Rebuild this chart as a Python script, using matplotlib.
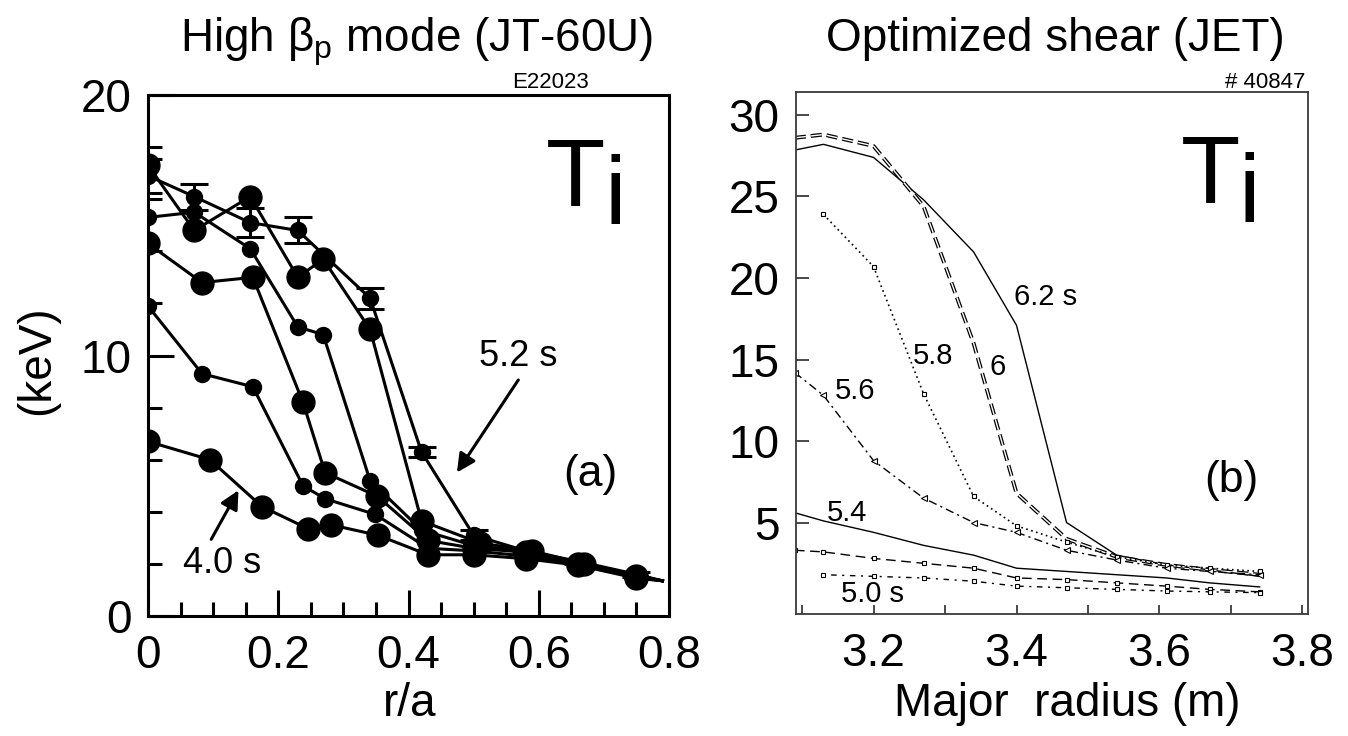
import numpy as np
import matplotlib
matplotlib.use("Agg")
import matplotlib.pyplot as plt

plt.rcParams['font.family'] = ['Liberation Sans', 'DejaVu Sans']
plt.rcParams['mathtext.default'] = 'regular'
plt.rcParams['lines.scale_dashes'] = False

# ---- panel (a): JT-60U high beta_p, Ti(r/a) at several times ----
r_A = [0.0, 0.095, 0.175, 0.246, 0.281, 0.353, 0.43, 0.50, 0.58, 0.66, 0.75]
ti_A = [6.7, 6.0, 4.2, 3.35, 3.5, 3.1, 2.35, 2.35, 2.2, 1.95, 1.45]
r_B = [0.0, 0.083, 0.161, 0.238, 0.272, 0.349, 0.43, 0.50, 0.58, 0.66, 0.75]
ti_B = [11.9, 9.3, 8.8, 5.0, 4.5, 3.9, 2.6, 2.5, 2.3, 2.0, 1.5]
r_C = [0.0, 0.083, 0.161, 0.238, 0.272, 0.352, 0.43, 0.50, 0.58, 0.66, 0.75]
ti_C = [14.3, 12.8, 13.0, 8.2, 5.5, 4.6, 2.9, 2.6, 2.45, 2.0, 1.5]
r_D = [0.0, 0.071, 0.157, 0.23, 0.269, 0.341, 0.42, 0.50, 0.58, 0.66, 0.75]
ti_D = [15.3, 15.5, 14.1, 11.1, 10.8, 5.2, 3.3, 2.7, 2.5, 2.05, 1.55]
r_E = [0.0, 0.071, 0.157, 0.23, 0.269, 0.341, 0.42, 0.51, 0.59, 0.67, 0.75]
ti_E = [17.3, 14.8, 16.1, 13.0, 13.7, 11.0, 3.65, 2.8, 2.5, 2.0, 1.55]
r_F = [0.0, 0.071, 0.157, 0.23, 0.341, 0.42, 0.50, 0.58, 0.66, 0.75]
ti_F = [16.9, 16.1, 15.1, 14.8, 12.2, 6.3, 3.1, 2.5, 2.1, 1.6]
err_F = [0.65, 0.5, 0.55, 0.5, 0.4, 0.2, 0.2, 0.1, 0.1, 0.1]
r_edge, ti_edge = 0.79, 1.35

# marker size per curve: big / medium circles alternate
curves_a = [(r_A, ti_A, 'big'), (r_B, ti_B, 'med'), (r_C, ti_C, 'big'),
            (r_D, ti_D, 'med'), (r_E, ti_E, 'big'), (r_F, ti_F, 'med')]

# ---- panel (b): JET optimized shear, Ti(R) ----
R_m = [3.09, 3.13, 3.20, 3.27, 3.34, 3.40, 3.47, 3.54, 3.61, 3.67, 3.74]
ti_62 = [27.85, 28.2, 27.4, 24.8, 21.6, 17.1, 5.0, 3.0, 2.4, 2.1, 1.7]
ti_60 = [28.6, 28.8, 28.1, 24.4, 16.0, 6.8, 4.0, 2.9, 2.4, 2.1, 1.8]
ti_58 = [np.nan, 23.9, 20.7, 12.9, 6.6, 4.8, 3.8, 2.9, 2.4, 2.2, 2.0]
ti_56 = [14.2, 12.8, 8.8, 6.5, 5.0, 4.4, 3.3, 2.7, 2.2, 2.0, 1.8]
ti_54 = [5.6, 5.1, 4.4, 3.6, 3.0, 2.2, 2.0, 1.8, 1.6, 1.3, 1.05]
ti_52 = [3.3, 3.2, 2.8, 2.5, 2.2, 1.6, 1.5, 1.3, 1.1, 0.9, 0.75]
ti_50 = [np.nan, 1.8, 1.7, 1.6, 1.4, 1.1, 1.0, 0.9, 0.8, 0.75, 0.7]

W, H = 1348, 736
fig = plt.figure(figsize=(W / 100, H / 100), dpi=100)


def box(l, t, r, b):
    return [l / W, 1 - b / H, (r - l) / W, (b - t) / H]


FS = 33

# ================= left panel =================
ax = fig.add_axes(box(148, 95, 669, 616))
ax.set_xlim(0, 0.8)
ax.set_ylim(0, 20)
for s in ax.spines.values():
    s.set_linewidth(2.2)

for r, t, size in curves_a:
    ms = 16.5 if size == 'big' else 11.5
    ax.plot(list(r) + [r_edge], list(t) + [ti_edge], color='k', lw=2.2, zorder=2)
    ax.plot(r, t, 'o', color='k', ms=ms, zorder=3)
ax.errorbar(r_F, ti_F, yerr=err_F, fmt='none', ecolor='k', elinewidth=2.2,
            capsize=10, capthick=2.2, zorder=3)

ax.set_xticks(np.arange(0, 0.81, 0.2))
ax.set_xticks(np.arange(0, 0.81, 0.05), minor=True)
ax.set_xticklabels(['0', '0.2', '0.4', '0.6', '0.8'])
ax.set_yticks([0, 10, 20])
ax.set_yticks(np.arange(0, 20.1, 2), minor=True)
ax.tick_params(which='major', direction='in', length=19, width=2.2,
               labelsize=FS, top=False, right=False)
ax.tick_params(which='minor', direction='in', length=10, width=2.2,
               top=False, right=False)
ax.tick_params(axis='x', which='major', pad=13)
ax.tick_params(axis='y', which='major', pad=12)

ax.text(0.568, 9.96, '5.2 s', fontsize=26, ha='center', va='center')
ax.annotate('', xy=(0.472, 5.42), xytext=(0.571, 9.15),
            arrowprops=dict(arrowstyle='-|>', color='k', lw=2.2, mutation_scale=28))
ax.text(0.114, 2.0, '4.0 s', fontsize=26, ha='center', va='center')
ax.annotate('', xy=(0.141, 4.92), xytext=(0.095, 2.85),
            arrowprops=dict(arrowstyle='-|>', color='k', lw=2.2, mutation_scale=28))
ax.text(0.679, 5.42, '(a)', fontsize=32, ha='center', va='center')
ax.text(0.656, 15.73, 'T', fontsize=70, ha='center', va='baseline')
ax.text(0.717, 15.04, 'i', fontsize=70, ha='center', va='baseline')

# ================= right panel =================
bx = fig.add_axes(box(796, 92, 1308, 614))
bx.set_xlim(3.0916, 3.8077)
bx.set_ylim(-0.61, 31.41)
for s in bx.spines.values():
    s.set_linewidth(1.3)
    s.set_color('#3a3a3a')

bx.plot(R_m, ti_62, color='k', lw=1.0)
bx.plot(R_m, ti_54, color='k', lw=1.0)
# hollow long dashes (6 s)
bx.plot(R_m, ti_60, color='k', lw=2.8, dashes=(8, 3.5), solid_capstyle='butt')
bx.plot(R_m, ti_60, color='w', lw=1.0, dashes=(8, 3.5))
bx.plot(R_m, ti_58, color='k', lw=1.2, dashes=(1.2, 2.5), marker='s', ms=3,
        mfc='w', mew=0.8)
bx.plot(R_m, ti_56, color='k', lw=1.0, dashes=(6, 3, 1.5, 3), marker='<', ms=4.5,
        mfc='w', mew=0.8)
bx.plot(R_m, ti_52, color='k', lw=1.0, dashes=(7, 4), marker='s', ms=3.5,
        mfc='w', mew=0.8)
bx.plot(R_m, ti_50, color='k', lw=1.0, dashes=(1.5, 4, 4, 4), marker='s', ms=2.5,
        mfc='w', mew=0.8)

bx.set_xticks([3.2, 3.4, 3.6, 3.8])
bx.set_xticks(np.arange(3.1, 3.81, 0.1), minor=True)
bx.set_yticks([5, 10, 15, 20, 25, 30])
bx.tick_params(which='major', direction='in', labelsize=FS, width=1.3,
               color='#3a3a3a', top=False, right=False)
bx.tick_params(axis='y', which='major', length=9.5, pad=12)
bx.tick_params(axis='x', which='major', length=6.5, pad=13)
bx.tick_params(which='minor', direction='in', length=6.5, width=1.3,
               color='#3a3a3a', top=False, right=False)

lab = dict(fontsize=21, ha='center', va='center')
bx.text(3.441, 18.83, '6.2 s', **lab)
bx.text(3.373, 14.54, '6', **lab)
bx.text(3.283, 15.2, '5.8', **lab)
bx.text(3.174, 13.07, '5.6', **lab)
bx.text(3.163, 5.58, '5.4', **lab)
bx.text(3.198, 0.61, '5.0 s', **lab)
bx.text(3.700, 7.6, '(b)', fontsize=32, ha='center', va='center')
bx.text(3.671, 24.6, 'T', fontsize=70, ha='center', va='baseline')
bx.text(3.725, 23.44, 'i', fontsize=70, ha='center', va='baseline')

# ================= titles and axis labels =================
fig.text(417 / W, 1 - 51 / H, r'High $\beta_p$ mode (JT-60U)', fontsize=FS,
         ha='center', va='baseline')
fig.text(1055 / W, 1 - 51 / H, 'Optimized shear (JET)', fontsize=FS,
         ha='center', va='baseline')
fig.text(551 / W, 1 - 88 / H, 'E22023', fontsize=16, ha='center', va='baseline')
fig.text(1305 / W, 1 - 88 / H, '# 40847', fontsize=16, ha='right', va='baseline')
fig.text(37 / W, 1 - 360 / H, '(keV)', fontsize=FS, rotation=90,
         ha='center', va='center')
fig.text(410 / W, 1 - 716 / H, 'r/a', fontsize=FS, ha='center', va='baseline')
fig.text(1067 / W, 1 - 716 / H, 'Major  radius (m)', fontsize=FS,
         ha='center', va='baseline')

fig.savefig('out.png', dpi=100)
